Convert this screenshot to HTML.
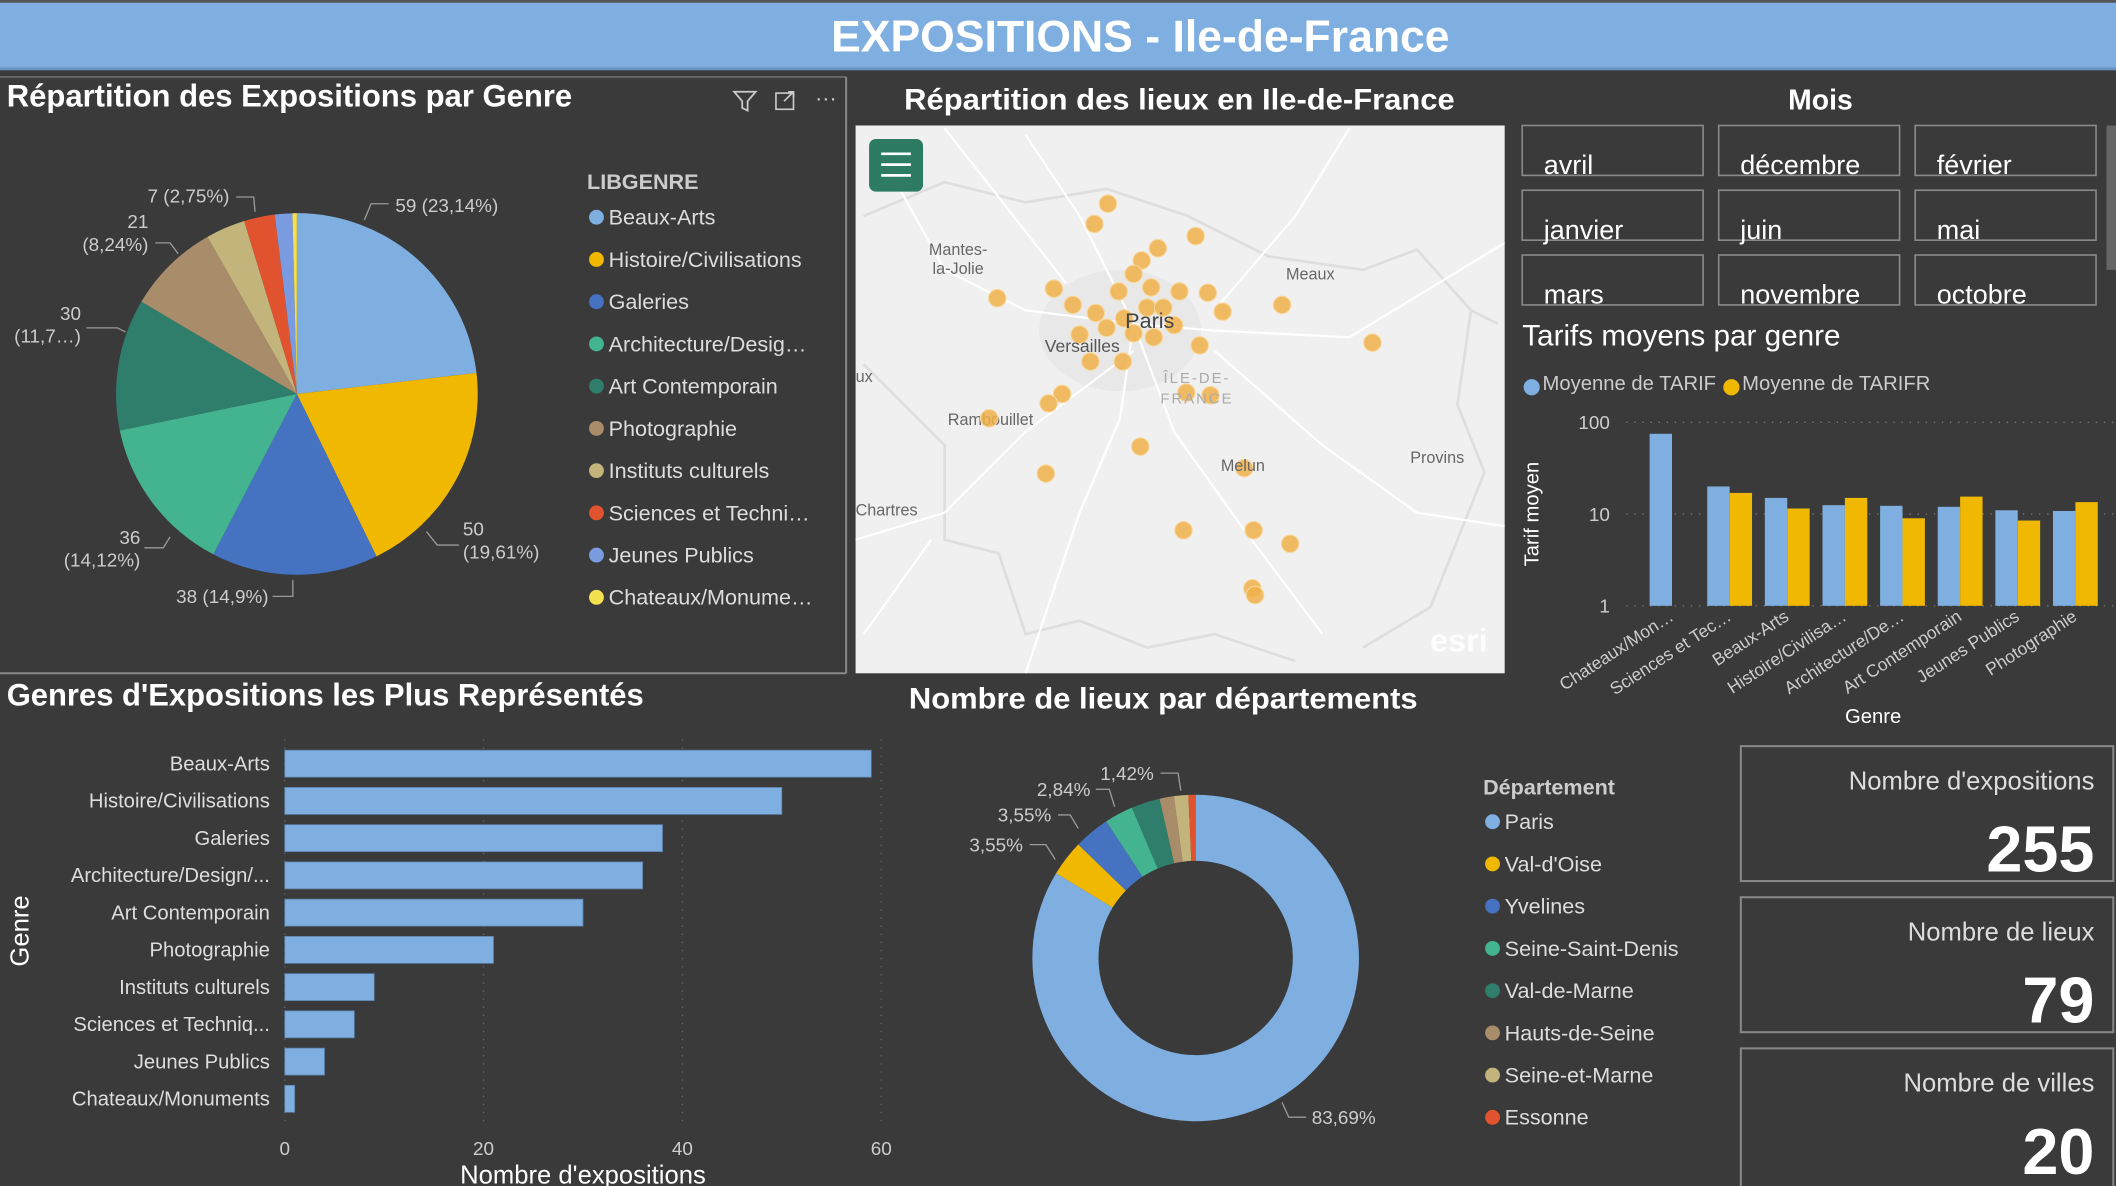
<!DOCTYPE html>
<html><head><meta charset="utf-8"><style>
html,body{margin:0;padding:0;background:#3a3a3a;width:2116px;height:1186px;overflow:hidden}
svg{display:block;font-family:"Liberation Sans",sans-serif}
</style></head><body>
<svg id="s" width="2116" height="1186" viewBox="0 0 1568 879" preserveAspectRatio="none" xmlns="http://www.w3.org/2000/svg">
<rect width="1568" height="879" fill="#3a3a3a"/>
<rect y="0" width="1568" height="2" fill="#555"/>
<rect y="2" width="1568" height="50" fill="#7fafe1"/>
<rect y="50" width="1568" height="2" fill="#6a94c4"/>
<text x="845" y="38" text-anchor="middle" font-size="33" font-weight="bold" fill="#fff">EXPOSITIONS - Ile-de-France</text>

<!-- Pie panel -->
<g>
<line x1="0" y1="57" x2="627" y2="57" stroke="#777" stroke-width="1"/>
<line x1="627" y1="57" x2="627" y2="499" stroke="#888" stroke-width="1.5"/>
<line x1="0" y1="499" x2="627" y2="499" stroke="#888" stroke-width="1.5"/>
<text x="5" y="79" font-size="23" font-weight="bold" fill="#fff" textLength="419" lengthAdjust="spacingAndGlyphs">Répartition des Expositions par Genre</text>
<g><path d="M544 68 L560 68 L554 75 L554 82 L550 80 L550 75 Z" fill="none" stroke="#ccc" stroke-width="1.3"/></g>
<g><rect x="575" y="69" width="13" height="12" fill="none" stroke="#ccc" stroke-width="1.2"/><path d="M581 75 L588 68 M584 68 L588 68 L588 72" stroke="#ccc" fill="none" stroke-width="1.2"/></g>
<text x="612" y="78" text-anchor="middle" font-size="16" fill="#ccc">···</text>
<g id="pie"></g>
<text x="435" y="140" font-size="16" font-weight="bold" fill="#ccc">LIBGENRE</text>
<g id="pieLegend"></g>
</g>

<!-- Map -->
<text x="874" y="81" text-anchor="middle" font-size="22" font-weight="bold" fill="#fff" textLength="408" lengthAdjust="spacingAndGlyphs">Répartition des lieux en Ile-de-France</text>
<g>
<clipPath id="mc"><rect x="634" y="93" width="481" height="406"/></clipPath>
<rect x="634" y="93" width="481" height="406" fill="#f0f0f0"/>
<g clip-path="url(#mc)" fill="none">
<ellipse cx="830" cy="245" rx="60" ry="45" fill="#e8e8e8"/>
<path d="M640 160 L700 135 L760 150 L820 140 L880 160 L940 190 L1010 200 L1050 185 L1090 230 L1110 240 M1090 230 L1080 300 L1100 350 L1080 400 L1060 450 L1010 480 M640 270 L670 300 L700 330 L700 400 L740 410 L760 470 L800 460 L850 480 L900 470 L960 490" stroke="#dedede" stroke-width="2"/>
<path d="M650 110 L700 200 L760 230 L840 240 L900 245 L1000 250 L1115 180 M760 100 L800 160 L840 240 L870 320 L920 390 L980 470 M634 400 L700 380 L760 320 L840 260 M840 240 L830 310 L800 380 L760 499 M1115 390 L1050 380 L980 330 L900 260 M700 95 L790 210 M640 470 L690 400 M1000 95 L960 160 L900 230" stroke="#ffffff" stroke-width="1.6"/>
</g>
<text x="710" y="189" text-anchor="middle" font-size="12" fill="#666">Mantes-</text>
<text x="710" y="203" text-anchor="middle" font-size="12" fill="#666">la-Jolie</text>
<text x="971" y="207" font-size="12" fill="#666" text-anchor="middle">Meaux</text>
<text x="734" y="315" font-size="12" fill="#666" text-anchor="middle">Rambouillet</text>
<text x="1065" y="343" font-size="12" fill="#666" text-anchor="middle">Provins</text>
<text x="634" y="382" font-size="12" fill="#666">Chartres</text>
<text x="634" y="283" font-size="12" fill="#666">ux</text>
<g id="dots"></g>
<text x="852" y="243" font-size="16" fill="#444" text-anchor="middle">Paris</text>
<text x="802" y="261" font-size="13" fill="#555" text-anchor="middle">Versailles</text>
<text x="887" y="284" font-size="11" fill="#aaa" text-anchor="middle" letter-spacing="1.5">ÎLE-DE-</text>
<text x="887" y="299" font-size="11" fill="#aaa" text-anchor="middle" letter-spacing="1.5">FRANCE</text>
<text x="921" y="349" font-size="12" fill="#666" text-anchor="middle">Melun</text>
<rect x="644" y="103" width="40" height="39" rx="5" fill="#2e7b63"/>
<path d="M653 114 H675 M653 122 H675 M653 130 H675" stroke="#fff" stroke-width="2"/>
<text x="1081" y="483" font-size="24" font-weight="bold" fill="#fff" text-anchor="middle" opacity="0.9">esri</text>
</g>

<!-- Mois slicer -->
<text x="1349" y="81" text-anchor="middle" font-size="21" font-weight="bold" fill="#fff">Mois</text>
<g id="months"></g>
<rect x="1561" y="93" width="7" height="107" fill="#666"/>

<!-- Tarifs -->
<text x="1128" y="256" font-size="22" fill="#fff">Tarifs moyens par genre</text>
<circle cx="1135" cy="287" r="6" fill="#7fafe1"/><text x="1143" y="289" font-size="15" fill="#ccc">Moyenne de TARIF</text>
<circle cx="1283" cy="287" r="6" fill="#f0b800"/><text x="1291" y="289" font-size="15" fill="#ccc">Moyenne de TARIFR</text>
<text transform="translate(1140,381) rotate(-90)" text-anchor="middle" font-size="15" fill="#fff">Tarif moyen</text>
<text x="1388" y="536" text-anchor="middle" font-size="15" fill="#fff">Genre</text>
<g id="tarif"></g>

<!-- Bar chart -->
<text x="5" y="523" font-size="23" font-weight="bold" fill="#fff" textLength="472" lengthAdjust="spacingAndGlyphs">Genres d'Expositions les Plus Représentés</text>
<text transform="translate(21,690) rotate(-90)" text-anchor="middle" font-size="19" fill="#fff">Genre</text>
<text x="432" y="877" text-anchor="middle" font-size="19" fill="#fff">Nombre d'expositions</text>
<g id="bars"></g>

<!-- Donut -->
<text x="862" y="525" text-anchor="middle" font-size="22" font-weight="bold" fill="#fff" textLength="377" lengthAdjust="spacingAndGlyphs">Nombre de lieux par départements</text>
<g id="donut"></g>
<text x="1099" y="589" font-size="16" font-weight="bold" fill="#ccc">Département</text>
<g id="donutLegend"></g>

<!-- KPI -->
<g id="kpis"></g>
</svg>
<script>
const NS="http://www.w3.org/2000/svg";
function mk(tag,attrs,parent,txt){const e=document.createElementNS(NS,tag);for(const k in attrs)e.setAttribute(k,attrs[k]);if(txt!==undefined)e.textContent=txt;parent.appendChild(e);return e;}

// ---------- data ----------
const genreNames=["Beaux-Arts","Histoire/Civilisations","Galeries","Architecture/Desig…","Art Contemporain","Photographie","Instituts culturels","Sciences et Techni…","Jeunes Publics","Chateaux/Monume…"];
const genreCounts=[59,50,38,36,30,21,9,7,4,1];
const genreColors=["#7fafe1","#f0b800","#4573c1","#44b38f","#2f7e6b","#a98c6a","#c3b47c","#e0532e","#7a9be0","#f5e050"];
const barLabels=["Beaux-Arts","Histoire/Civilisations","Galeries","Architecture/Design/...","Art Contemporain","Photographie","Instituts culturels","Sciences et Techniq...","Jeunes Publics","Chateaux/Monuments"];
const barValues=[59,50,38,36,30,21,9,7,4,1];
const barTicks=[0,20,40,60];
const deptNames=["Paris","Val-d'Oise","Yvelines","Seine-Saint-Denis","Val-de-Marne","Hauts-de-Seine","Seine-et-Marne","Essonne"];
const deptCounts=[118,5,5,4,4,2,2,1];
const deptColors=["#7fafe1","#f0b800","#4573c1","#44b38f","#2f7e6b","#a98c6a","#c3b47c","#e0532e"];
const tarifCats=["Chateaux/Mon…","Sciences et Tec…","Beaux-Arts","Histoire/Civilisa…","Architecture/De…","Art Contemporain","Jeunes Publics","Photographie"];
const tarifValues=[75,20,15,12.5,12.3,12,11,10.8];
const tarifrValues=[0,17,11.5,15,9,15.5,8.5,13.5];
const tarifTicks=[1,10,100];
const months=["avril","décembre","février","janvier","juin","mai","mars","novembre","octobre"];
const kpiLabels=["Nombre d'expositions","Nombre de lieux","Nombre de villes"];
const kpiValues=["255","79","20"];

// ---------- pie ----------
const pie=document.getElementById('pie');
const pcx=220,pcy=292,pr=134;
let tot=genreCounts.reduce((a,b)=>a+b,0),acc=0;
genreCounts.forEach((v,i)=>{
  const a0=acc/tot*2*Math.PI;acc+=v;const a1=acc/tot*2*Math.PI;
  const x0=pcx+pr*Math.sin(a0),y0=pcy-pr*Math.cos(a0),x1=pcx+pr*Math.sin(a1),y1=pcy-pr*Math.cos(a1);
  const p=mk('path',{d:`M${pcx} ${pcy} L${x0} ${y0} A${pr} ${pr} 0 ${a1-a0>Math.PI?1:0} 1 ${x1} ${y1} Z`,fill:genreColors[i]},pie);
  
  
});
const pl=[["59 (23,14%)",293,157,"start"],["50",343,397,"start"],["(19,61%)",343,414,"start"],["38 (14,9%)",199,447,"end"],["36",104,403,"end"],["(14,12%)",104,420,"end"],["30",60,237,"end"],["(11,7…)",60,254,"end"],["21",110,169,"end"],["(8,24%)",110,186,"end"],["7 (2,75%)",170,150,"end"]];
pl.forEach(t=>{const e=mk('text',{x:t[1],y:t[2],'text-anchor':t[3],'font-size':14,fill:'#ccc'},pie,t[0]);

});
mk('path',{d:"M288 151 L275 151 L270 163 M316 394 L324 404 L340 404 M202 442 L217 442 L217 430 M107 406 L121 406 L126 398 M64 243 L87 243 L93 246 M115 180 L126 180 L132 188 M175 146 L188 146 L189 157",stroke:'#999',fill:'none'},pie);
const pleg=document.getElementById('pieLegend');
genreNames.forEach((n,i)=>{const y=161+i*31.3;
  const g=mk('g',{},pleg);
  
  
  mk('circle',{cx:442,cy:y,r:5.5,fill:genreColors[i]},g);
  mk('text',{x:451,y:y+5.5,'font-size':16,fill:'#ddd'},g,n);});

// ---------- map dots ----------
const dotPts=[[821,151],[811,166],[858,184],[886,175],[846,193],[840,203],[739,221],[781,214],[829,216],[853,213],[874,216],[895,217],[795,226],[812,232],[833,236],[850,228],[862,228],[906,231],[950,226],[800,248],[820,243],[840,247],[855,250],[870,241],[889,256],[808,268],[832,268],[1017,254],[787,292],[777,299],[733,310],[879,291],[897,293],[845,331],[922,347],[775,351],[877,393],[929,393],[956,403],[928,436],[930,441]];
const dots=document.getElementById('dots');
dotPts.forEach(p=>{const c=mk('circle',{cx:p[0],cy:p[1],r:6.5,fill:'#f0b04a','fill-opacity':0.85,stroke:'#f7d9a0','stroke-width':0.8},dots);

});

// ---------- months ----------
const mg=document.getElementById('months');
months.forEach((m,i)=>{const c=i%3,r=Math.floor(i/3);const x=1128+c*145.6,y=93+r*48;
  const g=mk('g',{},mg);
  
  
  mk('rect',{x:x,y:y,width:134,height:37,fill:'none',stroke:'#8a8a8a','stroke-width':1.2},g);
  mk('text',{x:x+16,y:y+36,'font-size':20,fill:'#fff'},g,m);});

// ---------- tarif chart (log) ----------
const tg=document.getElementById('tarif');
const tyTop=313,tyBot=449;
function ty(v){return tyBot-(Math.log10(v))/2*(tyBot-tyTop);}
function tx(i){return 1239+i*42.7;}
tarifTicks.forEach(t=>{mk('line',{x1:1205,x2:1568,y1:ty(t),y2:ty(t),stroke:'#777','stroke-dasharray':'1 5'},tg);
  const l=mk('text',{x:1193,y:ty(t)+5,'text-anchor':'end','font-size':14,fill:'#ccc'},tg,t);
  
  });
tarifCats.forEach((c,i)=>{const cx=tx(i);
  if(tarifValues[i]>1){const b=mk('rect',{x:cx-16.6,y:ty(tarifValues[i]),width:16.6,height:tyBot-ty(tarifValues[i]),fill:'#7fafe1'},tg);
  
  }
  if(tarifrValues[i]>1){const b2=mk('rect',{x:cx,y:ty(tarifrValues[i]),width:16.6,height:tyBot-ty(tarifrValues[i]),fill:'#f0b800'},tg);
  
  }
  const l=mk('text',{transform:`translate(${cx+2},${tyBot+10}) rotate(-33)`,'text-anchor':'end','font-size':13,fill:'#ccc'},tg,c);
  
  });

// ---------- horizontal bars ----------
const bg=document.getElementById('bars');
function bx(v){return 211+v*(653-211)/60;}
barTicks.forEach(t=>{mk('line',{x1:bx(t),x2:bx(t),y1:548,y2:832,stroke:'#666','stroke-dasharray':'1 5'},bg);
  const l=mk('text',{x:bx(t),y:856,'text-anchor':'middle','font-size':14,fill:'#ccc'},bg,t);
  
  });
barLabels.forEach((n,i)=>{const cy=566+i*27.6;
  const b=mk('rect',{x:bx(0),y:cy-10,width:bx(barValues[i])-bx(0),height:20,fill:'#7fafe1',stroke:'#5a7fa8','stroke-width':0.6},bg);
  
  
  const l=mk('text',{x:200,y:cy+5,'text-anchor':'end','font-size':15,fill:'#ddd'},bg,n);
  
  });

// ---------- donut ----------
const dg=document.getElementById('donut');
const dcx=886,dcy=710,ro=121,ri=72;
let dt=deptCounts.reduce((a,b)=>a+b,0),da=0;
deptCounts.forEach((v,i)=>{const a0=da/dt*2*Math.PI;da+=v;const a1=da/dt*2*Math.PI;const lg=a1-a0>Math.PI?1:0;
  const P=(r,a)=>[dcx+r*Math.sin(a),dcy-r*Math.cos(a)];
  const [x0,y0]=P(ro,a0),[x1,y1]=P(ro,a1),[x2,y2]=P(ri,a1),[x3,y3]=P(ri,a0);
  const p=mk('path',{d:`M${x0} ${y0} A${ro} ${ro} 0 ${lg} 1 ${x1} ${y1} L${x2} ${y2} A${ri} ${ri} 0 ${lg} 0 ${x3} ${y3} Z`,fill:deptColors[i]},dg);
  
  });
[["1,42%",855,578],["2,84%",808,590],["3,55%",779,609],["3,55%",758,631],["83,69%",972,833]].forEach((t,i)=>{
  const l=mk('text',{x:t[1],y:t[2],'text-anchor':i==4?'start':'end','font-size':14,fill:'#ccc'},dg,t[0]);
  
  });
mk('path',{d:"M860 573 L873 573 L875 586 M812 585 L822 585 L826 598 M784 604 L793 604 L799 614 M763 626 L775 626 L782 637 M968 828 L955 828 L950 817",stroke:'#999',fill:'none'},dg);
const dleg=document.getElementById('donutLegend');
deptNames.forEach((n,i)=>{const y=609+i*31.3;
  const g=mk('g',{},dleg);
  
  
  mk('circle',{cx:1106,cy:y,r:5.5,fill:deptColors[i]},g);
  mk('text',{x:1115,y:y+5.5,'font-size':16,fill:'#ddd'},g,n);});

// ---------- KPI cards ----------
const kg=document.getElementById('kpis');
kpiLabels.forEach((l,i)=>{const y=553+i*112;
  const g=mk('g',{},kg);
  
  
  mk('rect',{x:1290,y:y,width:276,height:i==2?110:100,fill:'none',stroke:'#888','stroke-width':1.5},g);
  mk('text',{x:1552,y:y+32,'text-anchor':'end','font-size':19,fill:'#ddd'},g,l);
  mk('text',{x:1552,y:y+93,'text-anchor':'end','font-size':48,'font-weight':'bold',fill:'#fff'},g,kpiValues[i]);});
</script>
</body></html>
